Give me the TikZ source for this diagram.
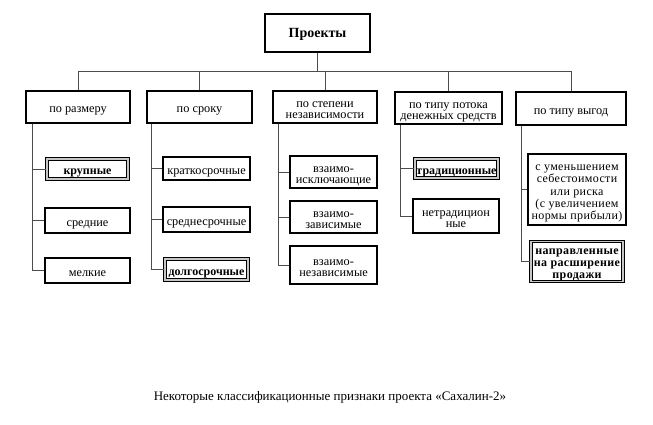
\documentclass[tikz,border=0pt]{standalone}
\usepackage{fontspec}
\setmainfont{Liberation Serif}
\begin{document}
\begin{tikzpicture}[x=1pt,y=-1pt,
  box/.style={draw, line width=1.1pt, align=center, inner sep=0.5pt, text depth=0pt, text height=11pt, font=\fontsize{12.3}{11}\selectfont},
  two/.style={text height=22pt},
  bbox/.style={box, font=\fontsize{12}{11}\selectfont\bfseries},
  dbox/.style={bbox, double=gray!45, double distance=1.6pt},
  link/.style={draw=gray!60!black, line width=0.6pt}]
\useasboundingbox (0,0) rectangle (653,424);
% top
\node[box, minimum width=105pt, minimum height=38pt, text height=9pt, font=\fontsize{14}{16}\selectfont\bfseries] (top) at (317.5,33) {Проекты};
% categories
\node[box, minimum width=104pt, minimum height=32pt] (cat1) at (78,107) {по размеру};
\node[box, minimum width=105pt, minimum height=32pt] (cat2) at (199.5,107) {по сроку};
\node[box, two, minimum width=104pt, minimum height=32pt] (cat3) at (325,107) {по степени\\независимости};
\node[box, two, minimum width=107pt, minimum height=32pt] (cat4) at (448.5,108) {по типу потока\\денежных средств};
\node[box, minimum width=110pt, minimum height=33pt] (cat5) at (571,108.5) {по типу выгод};
% column 1
\node[dbox, minimum width=81pt, minimum height=20pt] (a1) at (87.5,169) {крупные};
\node[box, minimum width=85pt, minimum height=25pt] (a2) at (87.5,220.5) {средние};
\node[box, minimum width=85pt, minimum height=25pt] (a3) at (87.5,270.5) {мелкие};
% column 2
\node[box, minimum width=87pt, minimum height=23pt] (b1) at (206.5,168.5) {краткосрочные};
\node[box, minimum width=87pt, minimum height=25pt] (b2) at (206.5,219.5) {среднесрочные};
\node[dbox, minimum width=83pt, minimum height=21pt] (b3) at (206.5,269.5) {долгосрочные};
% column 3
\node[box, two, minimum width=87pt, minimum height=32pt] (c1) at (333.5,172) {взаимо-\\исключающие};
\node[box, two, minimum width=87pt, minimum height=32pt] (c2) at (333.5,217) {взаимо-\\зависимые};
\node[box, two, minimum width=87pt, minimum height=38pt] (c3) at (333.5,265) {взаимо-\\независимые};
% column 4
\node[dbox, minimum width=83pt, minimum height=19pt] (d1) at (456.5,168.5) {традиционные};
\node[box, two, minimum width=86pt, minimum height=34pt] (d2) at (456,216) {нетрадицион\\ные};
% column 5
\node[box, minimum width=98pt, minimum height=71pt, text height=59.8pt, font=\fontsize{12}{12.2}\selectfont\addfontfeature{LetterSpace=3}] (e1) at (577,189.5) {с уменьшением\\себестоимости\\или риска\\(с увеличением\\нормы прибыли)};
\node[dbox, minimum width=92pt, minimum height=40pt, text height=34.4pt, font=\fontsize{12}{12}\selectfont\bfseries\addfontfeature{LetterSpace=3}] (e2) at (577,261.5) {направленные\\на расширение\\продажи};
% caption
\node[font=\fontsize{13}{15}\selectfont, inner sep=0pt] (cap) at (330,397) {Некоторые классификационные признаки проекта «Сахалин-2»};
% connectors
\coordinate (busL) at (78,71);
\coordinate (busR) at (571,71);
\draw[link] (top.south) -- (top.south |- busL);
\draw[link] (busL) -- (busR);
\foreach \c in {cat1,cat2,cat3,cat4,cat5} \draw[link] (\c.north |- busL) -- (\c.north);
\coordinate (v1) at ([xshift=7pt]cat1.south west);
\coordinate (v2) at ([xshift=5pt]cat2.south west);
\coordinate (v3) at ([xshift=6pt]cat3.south west);
\coordinate (v4) at ([xshift=6pt]cat4.south west);
\coordinate (v5) at ([xshift=6pt]cat5.south west);
\foreach \n in {a1,a2,a3} \draw[link] (v1) |- (\n.west);
\foreach \n in {b1,b2,b3} \draw[link] (v2) |- (\n.west);
\foreach \n in {c1,c2,c3} \draw[link] (v3) |- (\n.west);
\foreach \n in {d1,d2} \draw[link] (v4) |- (\n.west);
\foreach \n in {e1,e2} \draw[link] (v5) |- (\n.west);
\end{tikzpicture}
\end{document}
